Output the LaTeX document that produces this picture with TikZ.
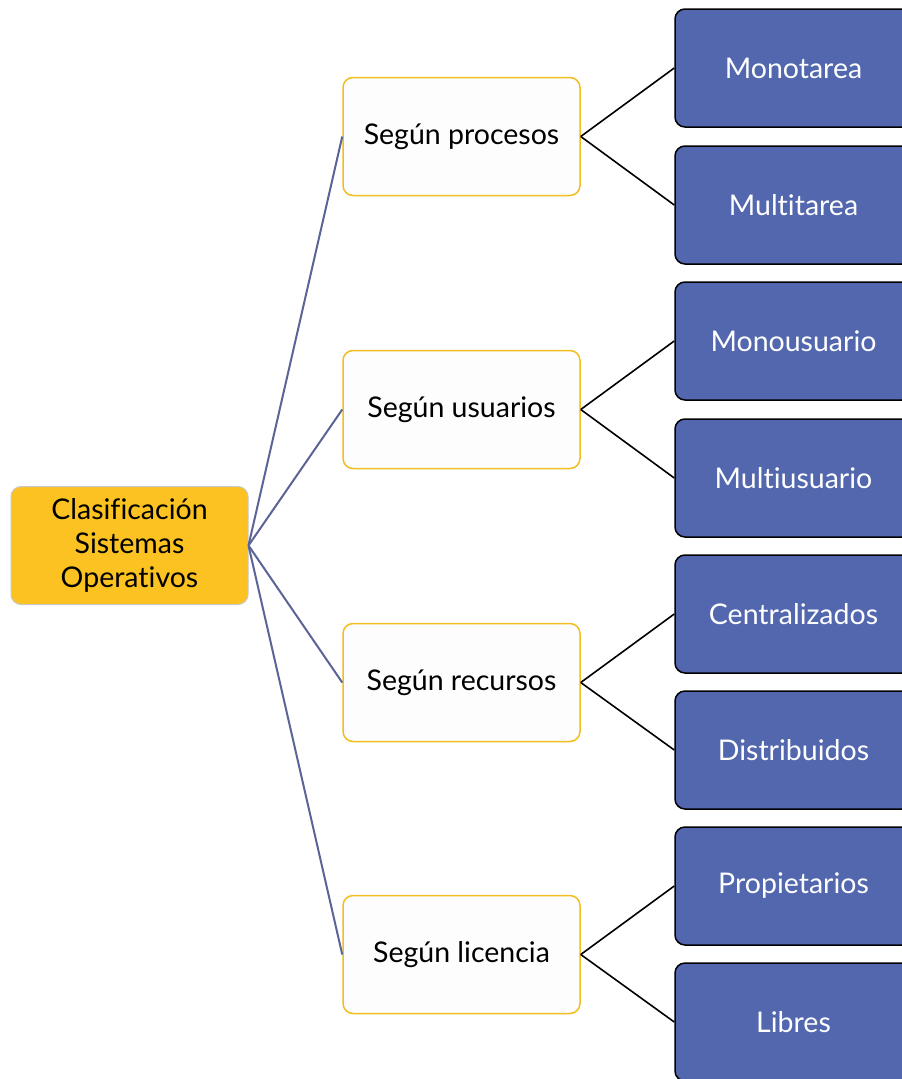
\documentclass[tikz,border=0pt]{standalone}
\usepackage{fontspec}
\setmainfont{Lato}[Ligatures=NoCommon]
\definecolor{rootfill}{RGB}{251,194,33}
\definecolor{rootedge}{RGB}{200,200,200}
\definecolor{midedge}{RGB}{240,190,30}
\definecolor{midfill}{RGB}{253,253,253}
\definecolor{leaffill}{RGB}{82,103,174}
\definecolor{trunk}{RGB}{90,100,150}
\begin{document}
\begin{tikzpicture}[x=1pt,y=1pt,
  box/.style={rounded corners=10pt, minimum width=237pt, minimum height=118pt,
    inner sep=0pt, align=center, font=\fontsize{28.5}{34}\selectfont},
  rootbox/.style={box, fill=rootfill, draw=rootedge, line width=1pt},
  midbox/.style={box, fill=midfill, draw=midedge, line width=1.5pt},
  leafbox/.style={box, fill=leaffill, draw=black, line width=1.5pt, text=white},
  trunkline/.style={draw=trunk, line width=2pt},
  branchline/.style={draw=black, line width=1.6pt}]
\useasboundingbox (0,0) rectangle (902,-1079);
\clip (0,0) rectangle (902,-1079);

% root
\node[rootbox] (root) at (129.5,-545.5) {Clasificación\\Sistemas\\Operativos};

% second level
\node[midbox] (p) at (461.5,-136.5) {Según procesos};
\node[midbox] (u) at (461.5,-409.5) {Según usuarios};
\node[midbox] (r) at (461.5,-682.5) {Según recursos};
\node[midbox] (l) at (461.5,-954.5) {Según licencia};

% leaves
\node[leafbox] (p1) at (793.5,-68)   {Monotarea};
\node[leafbox] (p2) at (793.5,-205)  {Multitarea};
\node[leafbox] (u1) at (793.5,-341)  {Monousuario};
\node[leafbox] (u2) at (793.5,-478)  {Multiusuario};
\node[leafbox] (r1) at (793.5,-614)  {Centralizados};
\node[leafbox] (r2) at (793.5,-750)  {Distribuidos};
\node[leafbox] (l1) at (793.5,-886)  {Propietarios};
\node[leafbox] (l2) at (793.5,-1022) {Libres};

% connectors
\foreach \m in {p,u,r,l}
  \draw[trunkline] (root.east) -- (\m.west);
\foreach \m/\a/\b in {p/p1/p2,u/u1/u2,r/r1/r2,l/l1/l2}{
  \draw[branchline] (\m.east) -- (\a.west);
  \draw[branchline] (\m.east) -- (\b.west);
}
\end{tikzpicture}
\end{document}
